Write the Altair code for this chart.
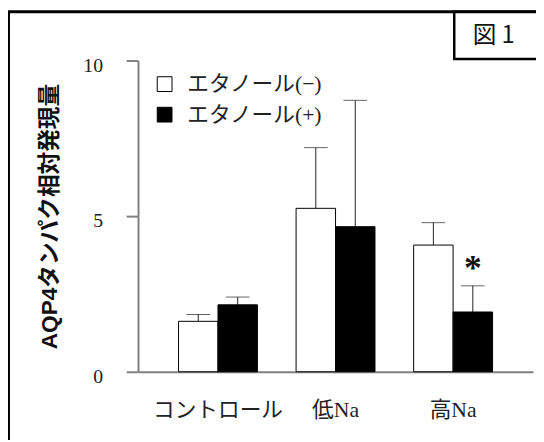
import altair as alt
import pandas as pd

groups = ["コントロール", "低Na", "高Na"]
series = ["エタノール(−)", "エタノール(+)"]
means_minus = [1.62, 5.25, 4.07]
means_plus = [2.15, 4.66, 1.92]
upper_minus = [1.84, 7.2, 4.79]
upper_plus = [2.4, 8.72, 2.76]
y_ticks = [0, 5, 10]
star_group = ["高Na"]
star_series = ["エタノール(+)"]
star_y = [3.47]
star_text = ["*"]
fig_label = ["図 1"]

rows = []
for i, g in enumerate(groups):
    rows.append(dict(group=g, series=series[0], mean=means_minus[i], upper=upper_minus[i]))
    rows.append(dict(group=g, series=series[1], mean=means_plus[i], upper=upper_plus[i]))
df = pd.DataFrame(rows)
star_df = pd.DataFrame({"group": star_group, "series": star_series, "val": star_y, "t": star_text})
one = pd.DataFrame({"t": fig_label})

W, H = 401, 316
SERIF = "Liberation Serif, Noto Sans CJK JP"

xenc = alt.X(
    "group:N", sort=groups,
    scale=alt.Scale(domain=groups, paddingOuter=0.18, paddingInner=0),
    axis=alt.Axis(title=None, labelAngle=0, ticks=False, tickSize=0,
                  domainColor="#808080", domainWidth=2,
                  labelFont=SERIF, labelFontSize=22, labelColor="#222",
                  labelBaseline="middle", labelPadding=38),
)
xoff = alt.XOffset("series:N", sort=series,
                   scale=alt.Scale(domain=series, paddingOuter=0.49, paddingInner=0))
yaxis = alt.Axis(values=y_ticks, grid=False, title="AQP4タンパク相対発現量",
                 domainColor="#808080", domainWidth=2, tickColor="#808080",
                 tickWidth=2, tickSize=12, labelPadding=24, labelFont="Liberation Serif",
                 labelFontSize=20, labelColor="#222", labelOffset=5,
                 titleFont="Liberation Sans, Noto Sans CJK JP", titleFontWeight="bold",
                 titleFontSize=23, titleColor="#111", titlePadding=22)
yscale = alt.Scale(domain=[0, 10], nice=False)

base = alt.Chart(df)
bars = base.mark_bar(stroke="black", strokeWidth=1).encode(
    x=xenc, xOffset=xoff,
    y=alt.Y("mean:Q", scale=yscale, axis=yaxis),
    fill=alt.Fill("series:N", sort=series,
                  scale=alt.Scale(domain=series, range=["white", "black"]),
                  legend=alt.Legend(title=None, orient="none", legendX=16, legendY=13,
                                    symbolType="square", symbolSize=225,
                                    symbolStrokeColor="black", symbolStrokeWidth=1,
                                    labelFont=SERIF, labelFontSize=22, labelColor="#222",
                                    labelOffset=12, rowPadding=9, padding=0)),
)
rules = base.mark_rule(color="#222", strokeWidth=1).encode(
    x=xenc, xOffset=xoff,
    y=alt.Y("mean:Q", scale=yscale, axis=yaxis), y2="upper:Q",
)
caps = base.mark_tick(color="#222", size=24, thickness=1).encode(
    x=xenc, xOffset=xoff,
    y=alt.Y("upper:Q", scale=yscale, axis=yaxis),
)
star = alt.Chart(star_df).mark_text(font="Liberation Serif", fontSize=36, fontWeight="bold",
                                    baseline="middle", align="center", dy=6,
                                    color="#111").encode(
    x=xenc, xOffset=xoff,
    y=alt.Y("val:Q", scale=yscale, axis=yaxis), text="t:N",
)
frame = alt.Chart(one).mark_rect(filled=False, stroke="black", strokeWidth=3).encode(
    x=alt.value(-131.5), x2=alt.value(W + 40), y=alt.value(-49.5), y2=alt.value(H + 120),
)
box = alt.Chart(one).mark_rect(filled=False, stroke="black", strokeWidth=2.5).encode(
    x=alt.value(321), x2=alt.value(W + 40), y=alt.value(-49.5), y2=alt.value(-1.5),
)
boxtext = alt.Chart(one).mark_text(font="Noto Sans CJK JP", fontSize=24, align="center",
                                   baseline="middle", color="#111").encode(
    x=alt.value(361), y=alt.value(-25), text="t:N",
)

chart = alt.layer(frame, box, boxtext, rules, caps, bars, star).properties(
    width=W, height=H, autosize="none",
    padding={"left": 132, "top": 50, "right": 3, "bottom": 66},
).configure_view(stroke=None)

chart.save("out.html", embed_options={"renderer": "svg", "actions": False})
